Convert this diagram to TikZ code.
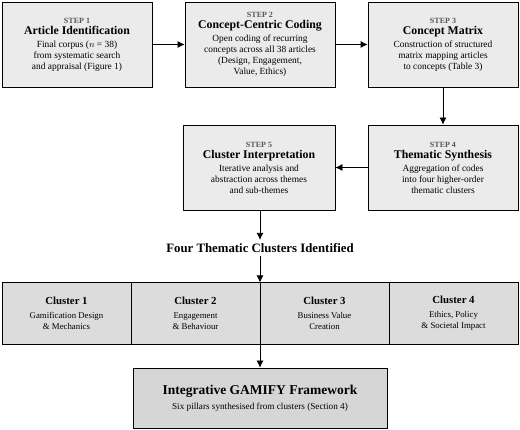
\documentclass[tikz,border=0pt]{standalone}
\usepackage{fontspec}
\setmainfont{Liberation Serif}
\usetikzlibrary{arrows.meta}
\definecolor{stepfill}{HTML}{EBEBEB}
\definecolor{clusterfill}{HTML}{DCDCDC}
\definecolor{framefill}{HTML}{D6D6D6}
\definecolor{steplabel}{HTML}{555555}
\newcommand{\steptag}[1]{{\fontsize{8}{9}\selectfont\bfseries\color{steplabel}STEP #1}\\[0pt]}
\newcommand{\steptitle}[1]{{\fontsize{11.8}{13}\selectfont\bfseries #1}\\[2pt]}
\tikzset{
  stepbox/.style={draw,thick,fill=stepfill,minimum width=150pt,minimum height=85pt,
    align=center,font=\fontsize{9.4}{11}\selectfont,inner sep=2pt},
  clusterbox/.style={draw,thick,fill=clusterfill,minimum width=129pt,minimum height=62pt,
    align=center,font=\fontsize{8.8}{11.5}\selectfont,inner sep=2pt},
  flow/.style={->,thick,>={Latex[length=7pt,width=7pt]}}
}
\begin{document}
\begin{tikzpicture}[x=1pt,y=1pt]
    \useasboundingbox (0,0) rectangle (520,430);
    % steps 1-3
    \node[stepbox] (s1) at (77,385.5) {\steptag{1}\steptitle{Article Identification}
      Final corpus ($n$ = 38)\\from systematic search\\and appraisal (Figure 1)};
    \node[stepbox] (s2) at (260,385.5) {\steptag{2}\steptitle{Concept-Centric Coding}
      Open coding of recurring\\concepts across all 38 articles\\(Design, Engagement,\\Value, Ethics)};
    \node[stepbox] (s3) at (443,385.5) {\steptag{3}\steptitle{Concept Matrix}
      Construction of structured\\matrix mapping articles\\to concepts (Table 3)};
    % steps 4-5
    \node[stepbox] (s4) at (443,262.5) {\steptag{4}\steptitle{Thematic Synthesis}
      Aggregation of codes\\into four higher-order\\thematic clusters};
    \node[stepbox,minimum width=152pt] (s5) at (259,262.5) {\steptag{5}\steptitle{Cluster Interpretation}
      Iterative analysis and\\abstraction across themes\\and sub-themes};
    \node[font=\fontsize{12.8}{15}\selectfont\bfseries] (head) at (260,182) {Four Thematic Clusters Identified};
    % clusters
    \node[clusterbox] (c1) at (66.5,116.5) {{\fontsize{10.8}{12}\selectfont\bfseries Cluster 1}\\[2pt]Gamification Design\\\& Mechanics};
    \node[clusterbox] (c2) at (195.5,116.5) {{\fontsize{10.8}{12}\selectfont\bfseries Cluster 2}\\[2pt]Engagement\\\& Behaviour};
    \node[clusterbox] (c3) at (324.5,116.5) {{\fontsize{10.8}{12}\selectfont\bfseries Cluster 3}\\[2pt]Business Value\\Creation};
    \node[clusterbox] (c4) at (453.5,116.5) {{\fontsize{10.8}{12}\selectfont\bfseries Cluster 4}\\[2pt]Ethics, Policy\\\& Societal Impact};
    \coordinate (band) at (260,147.5);
    \coordinate (bandlow) at (260,85.5);
    % framework
    \node[draw,thick,fill=framefill,minimum width=254pt,minimum height=60pt,align=center] (gamify) at (260,32)
      {{\fontsize{13.5}{16}\selectfont\bfseries Integrative GAMIFY Framework}\\[3pt]
       {\fontsize{9.2}{11}\selectfont Six pillars synthesised from clusters (Section 4)}};
    % connectors
    \draw[flow] (s1) -- (s2);
    \draw[flow] (s2) -- (s3);
    \draw[flow] (s3) -- (s4);
    \draw[flow] (s4) -- (s5);
    \draw[flow] (s5.south -| head) -- (head);
    \draw[flow] (head) -- (band);
    \draw[flow] (bandlow) -- (gamify);
\end{tikzpicture}
\end{document}
